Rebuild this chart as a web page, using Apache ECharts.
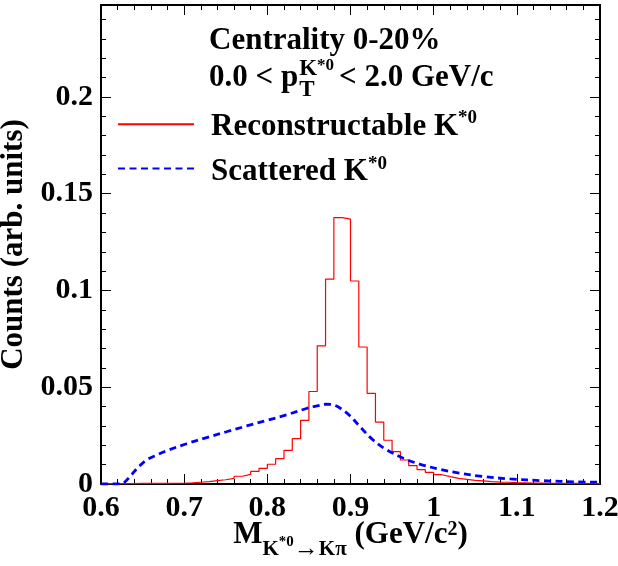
<!DOCTYPE html>
<html><head><meta charset="utf-8">
<script src="https://cdn.jsdelivr.net/npm/echarts@6/dist/echarts.min.js"></script>
<style>html,body{margin:0;padding:0;background:#fff}#c{width:618px;height:566px}</style>
</head><body><div id="c"></div><script>
const FONT = '"Liberation Serif", "Times New Roman", serif';

// Histogram bin low edges (GeV/c^2), bin width 0.01
const binLowEdges = [0.60,0.61,0.62,0.63,0.64,0.65,0.66,0.67,0.68,0.69,
  0.70,0.71,0.72,0.73,0.74,0.75,0.76,0.77,0.78,0.79,
  0.80,0.81,0.82,0.83,0.84,0.85,0.86,0.87,0.88,0.89,
  0.90,0.91,0.92,0.93,0.94,0.95,0.96,0.97,0.98,0.99,
  1.00,1.01,1.02,1.03,1.04,1.05,1.06,1.07,1.08,1.09,
  1.10,1.11,1.12,1.13,1.14,1.15,1.16,1.17,1.18,1.19];
const histUpperEdge = 1.2;
// Reconstructable K*0 counts per bin
const reconstructableCounts = [0.0002,0.0002,0.0002,0.0002,0.0003,0.0003,0.0003,0.0003,0.0004,0.0004,
  0.0006,0.0009,0.0012,0.0017,0.0022,0.0029,0.0040,0.0050,0.0065,0.0081,
  0.0102,0.0131,0.0174,0.0234,0.0329,0.0478,0.0714,0.1059,0.1376,0.1369,
  0.1049,0.0708,0.0468,0.0320,0.0226,0.0167,0.0124,0.0095,0.0074,0.0060,
  0.0048,0.0038,0.0029,0.0024,0.0019,0.0016,0.0012,0.0010,0.0009,0.0007,
  0.0006,0.0005,0.0005,0.0004,0.0004,0.0003,0.0003,0.0003,0.0002,0.0002];
// Scattered K*0 curve
const scatteredMass = [0.600,0.615,0.625,0.635,0.645,0.655,0.667,0.679,0.703,0.727,0.751,0.775,0.799,0.823,0.847,0.860,0.870,0.880,0.890,0.900,0.911,0.927,0.943,0.963,0.983,1.007,1.031,1.059,1.092,1.132,1.172,1.200];
const scatteredCounts = [0,0,0.0002,0.0040,0.0088,0.0125,0.0150,0.0172,0.0208,0.0240,0.0270,0.0300,0.0328,0.0357,0.0390,0.0404,0.0412,0.0408,0.0385,0.0350,0.0298,0.0228,0.0178,0.0134,0.0103,0.0076,0.0056,0.0039,0.0026,0.0017,0.0011,0.0009];

const xTickLabels = {'0.6':'0.6','0.7':'0.7','0.8':'0.8','0.9':'0.9','1':'1','1.1':'1.1','1.2':'1.2'};
const yTickLabels = {'0':'0','0.05':'0.05','0.1':'0.1','0.15':'0.15','0.2':'0.2'};

const X_MIN = 0.6, X_MAX = 1.2, Y_MIN = 0, Y_MAX = 0.2475;

const reconData = binLowEdges.map((x, i) => [x, reconstructableCounts[i]]);
reconData.push([histUpperEdge, reconstructableCounts[reconstructableCounts.length - 1]]);
const scatData = scatteredMass.map((x, i) => [x, scatteredCounts[i]]);

const ctx = document.createElement('canvas').getContext('2d');
function tw(t, fs) { ctx.font = 'bold ' + fs + 'px "Liberation Serif"'; return ctx.measureText(t).width; }
const mid = (baseline, fs) => baseline - 0.3375 * fs;
function txt(t, x, baseline, fs) {
  return { type: 'text', x: x, y: mid(baseline, fs), silent: true,
    style: { text: t, font: 'bold ' + fs + 'px ' + FONT, fill: '#000', align: 'left', verticalAlign: 'middle' } };
}
const X0 = 209;
const pEnd = X0 + tw('0.0 < p', 31);
const kEnd = pEnd + 1 + tw('K', 23);
const supEnd = kEnd + tw('*0', 17);
const tEnd = pEnd + 1 + tw('T', 23);
const restX = Math.max(supEnd, tEnd) + 5;

const axisLineStyle = { color: '#000', width: 2 };
const tickStyle = { color: '#000', width: 1 };
const labelStyle = { fontSize: 30, fontWeight: 'bold', fontFamily: FONT, color: '#000' };
const B = { fontWeight: 'bold', fontFamily: FONT, color: '#000', verticalAlign: 'top' };

const chart = echarts.init(document.getElementById('c'), null, { renderer: 'canvas' });
chart.setOption({
  animation: false,
  backgroundColor: '#fff',
  grid: { left: 101, right: 18, top: 5, bottom: 82, containLabel: false, outerBoundsMode: 'none' },
  xAxis: [
    { type: 'value', min: X_MIN, max: X_MAX, interval: 0.1, position: 'bottom',
      axisLine: { show: true, onZero: false, lineStyle: axisLineStyle },
      axisTick: { show: true, inside: true, length: 10, lineStyle: tickStyle },
      minorTick: { show: true, splitNumber: 5, length: 5, lineStyle: tickStyle },
      splitLine: { show: false },
      axisLabel: Object.assign({ margin: 9, showMinLabel: true, showMaxLabel: true,
        formatter: v => xTickLabels[String(+v.toFixed(2))] || '' }, labelStyle),
      name: '{m|M}{s|K}{ss|*0}{a|\u2192}{s|K\u03c0}{m| (GeV/c}{p|2}{m|)}',
      nameLocation: 'middle', nameGap: 35.5, nameMoveOverlap: false,
      nameTextStyle: { rich: {
        m: Object.assign({ fontSize: 31, lineHeight: 31, padding: [0, 0, 0, 0] }, B),
        s: Object.assign({ fontSize: 21, lineHeight: 21, padding: [20, 0, 0, 0] }, B),
        a: Object.assign({ fontSize: 25, lineHeight: 25, padding: [18, 0, 0, 0] }, B),
        ss: Object.assign({ fontSize: 15, lineHeight: 15, padding: [15, 0, 0, 0] }, B),
        p: Object.assign({ fontSize: 20, lineHeight: 20, padding: [0, 0, 0, 0] }, B)
      } } },
    { type: 'value', min: X_MIN, max: X_MAX, interval: 0.1, position: 'top',
      axisLine: { show: true, onZero: false, lineStyle: axisLineStyle },
      axisTick: { show: true, inside: true, length: 10, lineStyle: tickStyle },
      minorTick: { show: true, splitNumber: 5, length: 5, lineStyle: tickStyle },
      splitLine: { show: false }, axisLabel: { show: false } }
  ],
  yAxis: [
    { type: 'value', min: Y_MIN, max: Y_MAX, interval: 0.05, position: 'left',
      axisLine: { show: true, onZero: false, lineStyle: axisLineStyle },
      axisTick: { show: true, inside: true, length: 10, lineStyle: tickStyle },
      splitLine: { show: false },
      axisLabel: Object.assign({ margin: 8, showMaxLabel: false,
        formatter: v => yTickLabels[String(+v.toFixed(3))] || '' }, labelStyle),
      name: 'Counts (arb. units)', nameLocation: 'middle', nameGap: 60,
      nameTextStyle: { fontSize: 31, fontWeight: 'bold', fontFamily: FONT, color: '#000' } },
    { type: 'value', min: Y_MIN, max: Y_MAX, interval: 0.01, position: 'left',
      axisLine: { show: false },
      axisTick: { show: true, inside: true, length: 5, lineStyle: tickStyle },
      splitLine: { show: false }, axisLabel: { show: false } },
    { type: 'value', min: Y_MIN, max: Y_MAX, interval: 0.05, position: 'right',
      axisLine: { show: true, onZero: false, lineStyle: axisLineStyle },
      axisTick: { show: true, inside: true, length: 10, lineStyle: tickStyle },
      splitLine: { show: false }, axisLabel: { show: false } },
    { type: 'value', min: Y_MIN, max: Y_MAX, interval: 0.01, position: 'right',
      axisLine: { show: false },
      axisTick: { show: true, inside: true, length: 5, lineStyle: tickStyle },
      splitLine: { show: false }, axisLabel: { show: false } }
  ],
  legend: [
    { data: ['Reconstructable K*0'], left: 117, top: 108.8, orient: 'vertical', padding: 0,
      itemWidth: 76, itemHeight: 14, selectedMode: false,
      itemStyle: { color: 'rgba(0,0,0,0)', borderWidth: 0, opacity: 0 },
      formatter: () => '{b|Reconstructable K}{s|*0}',
      textStyle: { rich: {
        b: Object.assign({ fontSize: 31, lineHeight: 31, padding: [3, 0, 7, 12] }, B),
        s: Object.assign({ fontSize: 19, lineHeight: 19, padding: [0, 0, 0, 0] }, B) } } },
    { data: ['Scattered K*0'], left: 117, top: 153, orient: 'vertical', padding: 0,
      itemWidth: 76, itemHeight: 14, selectedMode: false,
      itemStyle: { color: 'rgba(0,0,0,0)', borderWidth: 0, opacity: 0 },
      formatter: () => '{b|Scattered K}{s|*0}',
      textStyle: { rich: {
        b: Object.assign({ fontSize: 31, lineHeight: 31, padding: [3, 0, 8, 12] }, B),
        s: Object.assign({ fontSize: 19, lineHeight: 19, padding: [2, 0, 0, 0] }, B) } } }
  ],
  graphic: [
    txt('Centrality 0-20%', X0, 51, 31),
    txt('0.0 < p', X0, 88, 31),
    txt('K', pEnd + 1, 77, 23),
    txt('*0', kEnd, 71, 17),
    txt('T', pEnd + 1, 98, 23),
    txt('< 2.0 GeV/c', restX, 88, 31)
  ],
  series: [
    { name: 'Reconstructable K*0', type: 'line', step: 'end', data: reconData,
      symbol: 'none', showSymbol: false, xAxisIndex: 0, yAxisIndex: 0,
      lineStyle: { color: '#ff0000', width: 1.2 }, itemStyle: { color: '#ff0000' }, z: 3 },
    { name: 'Scattered K*0', type: 'line', smooth: 0.35, data: scatData,
      symbol: 'none', showSymbol: false, xAxisIndex: 0, yAxisIndex: 0,
      lineStyle: { color: '#0000ff', width: 2.8, type: [7, 4.5] }, itemStyle: { color: '#0000ff' }, z: 4 }
  ]
});
</script></body></html>
